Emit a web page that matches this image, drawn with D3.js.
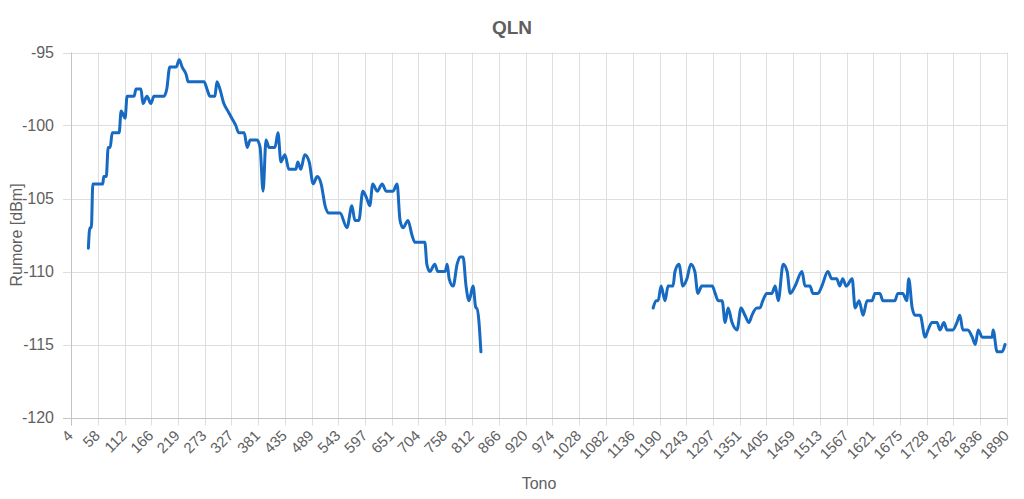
<!DOCTYPE html>
<html>
<head>
<meta charset="utf-8">
<script src="https://cdn.jsdelivr.net/npm/d3@7"></script>
<style>
  html, body { margin: 0; padding: 0; background: #fff; }
  svg { display: block; font-family: "Liberation Sans", Arial, Helvetica, sans-serif; }
</style>
</head>
<body>
<svg id="chart" width="1024" height="499"></svg>
<script>
// ---- Data ----
const chartTitle = "QLN";
const xTitle = "Tono";
const yTitle = "Rumore [dBm]";

const xTickLabels = [4, 58, 112, 166, 219, 273, 327, 381, 435, 489, 543, 597, 651, 704, 758, 812, 866, 920, 974, 1028, 1082, 1136, 1190, 1243, 1297, 1351, 1405, 1459, 1513, 1567, 1621, 1675, 1728, 1782, 1836, 1890];
const yTicks = [-120, -115, -110, -105, -100, -95];

const segment1Tones = [39, 42, 45, 48, 68, 70, 75, 79, 83, 87, 101, 105, 113, 117, 131, 135, 145, 149, 157, 165, 171, 191, 197, 203, 216, 222, 228, 236, 240, 272, 278, 284, 294, 298, 304, 312, 320, 328, 336, 342, 353, 359, 365, 379, 385, 391, 397, 403, 415, 421, 427, 435, 443, 457, 461, 467, 475, 484, 492, 500, 508, 516, 524, 546, 560, 570, 576, 584, 592, 600, 606, 612, 621, 631, 639, 653, 661, 667, 673, 683, 691, 697, 717, 721, 727, 737, 743, 758, 762, 766, 774, 782, 788, 794, 800, 806, 814, 820, 822, 830];
const segment1Noise = [-108.4, -107, -107, -104, -104, -103.5, -103.5, -101.5, -101.5, -100.5, -100.5, -99, -99.5, -98, -98, -97.5, -97.5, -98.5, -98, -98.5, -98, -98, -97.5, -96, -96, -95.5, -96, -96.5, -97, -97, -97.5, -98, -98, -97, -97.5, -98.5, -99, -99.5, -100, -100.5, -100.5, -101.5, -101, -101, -101.5, -104.5, -101, -101.5, -101.5, -100.5, -102.5, -102, -103, -103, -102.5, -103, -102, -102.5, -104, -103.5, -104, -105.5, -106, -106, -107, -105.5, -106.5, -106.5, -104.5, -105, -105.5, -104, -104.5, -104, -104.5, -104.5, -104, -106.5, -107, -106.5, -107.5, -108, -108, -109.5, -110, -109.5, -110, -110, -109.5, -110.5, -111, -109.5, -109, -109, -111, -112, -111, -112.5, -112.5, -115.5];

const segment2Tones = [1177, 1183, 1187, 1193, 1201, 1207, 1217, 1221, 1229, 1237, 1245, 1253, 1261, 1267, 1275, 1296, 1302, 1308, 1316, 1322, 1328, 1336, 1346, 1354, 1362, 1370, 1376, 1386, 1392, 1398, 1406, 1416, 1423, 1429, 1439, 1447, 1453, 1463, 1477, 1483, 1493, 1499, 1509, 1517, 1529, 1537, 1547, 1553, 1559, 1566, 1578, 1584, 1592, 1600, 1608, 1618, 1624, 1634, 1640, 1664, 1670, 1680, 1688, 1692, 1699, 1705, 1715, 1725, 1731, 1739, 1749, 1755, 1763, 1769, 1781, 1789, 1795, 1801, 1811, 1820, 1826, 1832, 1840, 1860, 1862, 1870, 1880, 1886];
const segment2Noise = [-112.5, -112, -112, -111, -112, -111, -111, -110, -109.5, -111, -110.5, -109.5, -110, -111.5, -111, -111, -111.5, -112, -112, -113.5, -112.5, -113.5, -114, -112.5, -113, -113.5, -113, -112.5, -112.5, -112, -111.5, -111.5, -111, -112, -109.5, -110, -111.5, -111, -110, -111, -111, -111.5, -111.5, -111, -110, -110.5, -110.5, -111, -110.5, -111, -110.5, -112.5, -112, -113, -112, -112, -111.5, -111.5, -112, -112, -111.5, -111.5, -112, -110.5, -112.5, -113, -113, -114.5, -114, -113.5, -113.5, -114, -113.5, -114, -114, -113.5, -113, -114, -114, -114.5, -115, -114, -114.5, -114.5, -114, -115.5, -115.5, -115];

// ---- Layout ----
const W = 1024, H = 499;
const plot = { left: 71, right: 1007, top: 52.5, bottom: 417.5 };
const tickLen = 8;
const gridColor = "#dedede";
const borderColor = "#c4c4c4";
const textColor = "#5f5f5f";
const lineColor = "#176ac2";

const svg = d3.select("#chart");

const x = d3.scaleLinear().domain([4, 1890]).range([plot.left, plot.right]);
const y = d3.scaleLinear().domain([-120, -95]).range([plot.bottom, plot.top]);

// Grid - horizontal
svg.append("g").selectAll("line").data(yTicks).join("line")
  .attr("x1", plot.left - tickLen).attr("x2", plot.right)
  .attr("y1", d => Math.round(y(d)) + 0.5).attr("y2", d => Math.round(y(d)) + 0.5)
  .attr("stroke", gridColor).attr("stroke-width", 1);

// Grid - vertical
svg.append("g").selectAll("line").data(xTickLabels).join("line")
  .attr("x1", d => Math.round(x(d)) + 0.5).attr("x2", d => Math.round(x(d)) + 0.5)
  .attr("y1", plot.top).attr("y2", plot.bottom + tickLen)
  .attr("stroke", gridColor).attr("stroke-width", 1);

// Axis border lines
svg.append("line")
  .attr("x1", Math.round(plot.left) + 0.5).attr("x2", Math.round(plot.left) + 0.5)
  .attr("y1", plot.top).attr("y2", plot.bottom + tickLen)
  .attr("stroke", borderColor);
svg.append("line")
  .attr("x1", plot.left - tickLen).attr("x2", plot.right)
  .attr("y1", Math.round(plot.bottom) + 0.5).attr("y2", Math.round(plot.bottom) + 0.5)
  .attr("stroke", borderColor);

// Y tick labels
svg.append("g").selectAll("text").data(yTicks).join("text")
  .attr("x", plot.left - 17)
  .attr("y", d => y(d))
  .attr("dy", "0.35em")
  .attr("text-anchor", "end")
  .attr("font-size", 16)
  .attr("fill", textColor)
  .text(d => d);

// X tick labels (rotated)
svg.append("g").selectAll("text").data(xTickLabels).join("text")
  .attr("transform", d => `translate(${x(d) + 3},${plot.bottom + 19}) rotate(-45)`)
  .attr("text-anchor", "end")
  .attr("font-size", 15)
  .attr("fill", textColor)
  .text(d => d);

// Titles
svg.append("text")
  .attr("x", W / 2).attr("y", 34)
  .attr("text-anchor", "middle")
  .attr("font-size", 19).attr("font-weight", "bold")
  .attr("fill", textColor)
  .text(chartTitle);

svg.append("text")
  .attr("x", (plot.left + plot.right) / 2).attr("y", 489)
  .attr("text-anchor", "middle")
  .attr("font-size", 16)
  .attr("fill", textColor)
  .text(xTitle);

svg.append("text")
  .attr("transform", `translate(22,${(plot.top + plot.bottom) / 2}) rotate(-90)`)
  .attr("text-anchor", "middle")
  .attr("font-size", 16)
  .attr("fill", textColor)
  .text(yTitle);

// Lines
const line = d3.line()
  .x(d => x(d[0]))
  .y(d => y(d[1]))
  .curve(d3.curveMonotoneX);

const seg1 = segment1Tones.map((t, i) => [t, segment1Noise[i]]);
const seg2 = segment2Tones.map((t, i) => [t, segment2Noise[i]]);

svg.append("g").selectAll("path").data([seg1, seg2]).join("path")
  .attr("d", line)
  .attr("fill", "none")
  .attr("stroke", lineColor)
  .attr("stroke-width", 3)
  .attr("stroke-linejoin", "round")
  .attr("stroke-linecap", "round");
</script>
</body>
</html>
